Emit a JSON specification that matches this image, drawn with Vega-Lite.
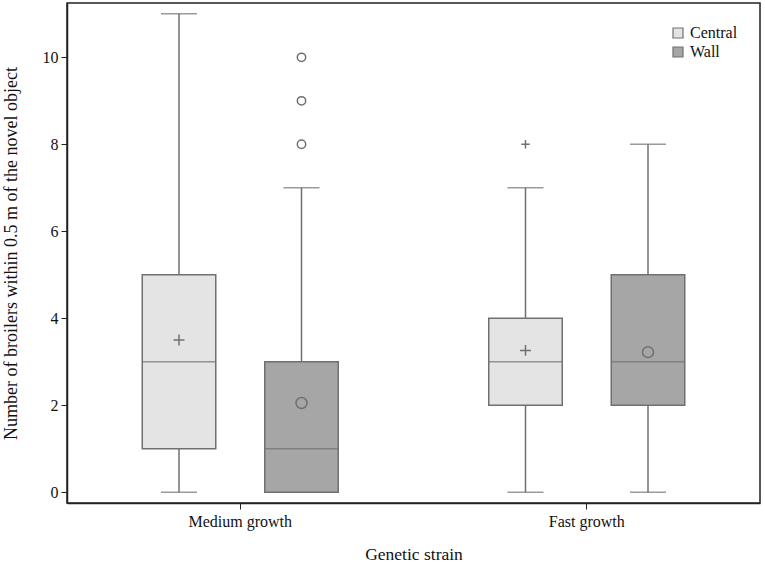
{
  "$schema": "https://vega.github.io/schema/vega-lite/v6.json",
  "width": 693,
  "height": 500,
  "autosize": "none",
  "padding": {"left": 67, "top": 3, "right": 5, "bottom": 65},
  "background": "white",
  "datasets": {
    "stats": [
      {"growth": "Medium growth", "strain": "Central", "lower": 0, "q1": 1, "median": 3, "q3": 5, "upper": 11, "mean": 3.5},
      {"growth": "Medium growth", "strain": "Wall", "lower": 0, "q1": 0, "median": 1, "q3": 3, "upper": 7, "mean": 2.05},
      {"growth": "Fast growth", "strain": "Central", "lower": 0, "q1": 2, "median": 3, "q3": 4, "upper": 7, "mean": 3.26},
      {"growth": "Fast growth", "strain": "Wall", "lower": 0, "q1": 2, "median": 3, "q3": 5, "upper": 8, "mean": 3.22}
    ],
    "outliers": [
      {"growth": "Medium growth", "strain": "Wall", "value": 8},
      {"growth": "Medium growth", "strain": "Wall", "value": 9},
      {"growth": "Medium growth", "strain": "Wall", "value": 10},
      {"growth": "Fast growth", "strain": "Central", "value": 8}
    ]
  },
  "data": {"name": "stats"},
  "config": {
    "font": "Liberation Serif",
    "view": {"stroke": "#222222", "strokeWidth": 1.5},
    "axis": {
      "labelFont": "Liberation Serif",
      "titleFont": "Liberation Serif",
      "labelColor": "#111111",
      "titleColor": "#111111",
      "titleFontWeight": "normal",
      "domainColor": "#222222",
      "tickColor": "#222222",
      "grid": false
    },
    "legend": {
      "labelFont": "Liberation Serif"
    }
  },
  "resolve": {"scale": {"shape": "independent"}, "legend": {"shape": "independent"}},
  "encoding": {
    "x": {
      "field": "growth",
      "type": "nominal",
      "sort": ["Medium growth", "Fast growth"],
      "scale": {"paddingInner": 0.3, "paddingOuter": 0.15},
      "axis": {
        "title": "Genetic strain",
        "labelAngle": 0,
        "labelFontSize": 16,
        "titleFontSize": 17.5,
        "tickSize": 6,
        "labelPadding": 4,
        "titlePadding": 16,
        "domainWidth": 1.5
      }
    },
    "xOffset": {
      "field": "strain",
      "type": "nominal",
      "sort": ["Central", "Wall"],
      "scale": {"paddingInner": 0.4, "paddingOuter": 0.19}
    }
  },
  "layer": [
    {
      "mark": {"type": "rule", "color": "#707070", "strokeWidth": 1.5},
      "encoding": {
        "y": {
          "field": "lower",
          "type": "quantitative",
          "scale": {"domain": [-0.25, 11.25], "nice": false, "zero": false},
          "axis": {
            "title": "Number of broilers within 0.5 m of the novel object",
            "values": [0, 2, 4, 6, 8, 10],
            "labelFontSize": 16,
            "titleFontSize": 18,
            "tickSize": 6,
            "labelPadding": 3,
            "titlePadding": 22,
            "domainWidth": 1.5
          }
        },
        "y2": {"field": "upper"}
      }
    },
    {
      "mark": {"type": "tick", "color": "#707070", "size": 36, "thickness": 1.5, "orient": "horizontal"},
      "encoding": {"y": {"field": "lower", "type": "quantitative"}}
    },
    {
      "mark": {"type": "tick", "color": "#707070", "size": 36, "thickness": 1.5, "orient": "horizontal"},
      "encoding": {"y": {"field": "upper", "type": "quantitative"}}
    },
    {
      "mark": {"type": "bar", "stroke": "#707070", "strokeWidth": 1.5},
      "encoding": {
        "y": {"field": "q1", "type": "quantitative"},
        "y2": {"field": "q3"},
        "color": {
          "field": "strain",
          "type": "nominal",
          "scale": {"domain": ["Central", "Wall"], "range": ["#e4e4e4", "#a6a6a6"]},
          "legend": {
            "title": null,
            "orient": "top-right",
            "offset": 22,
            "symbolType": "square",
            "symbolSize": 100,
            "symbolStrokeColor": "#707070",
            "symbolStrokeWidth": 1.2,
            "labelFontSize": 16,
            "labelColor": "#111111",
            "rowPadding": 3
          }
        }
      }
    },
    {
      "mark": {"type": "tick", "color": "#707070", "size": 73, "thickness": 1.5, "orient": "horizontal"},
      "encoding": {"y": {"field": "median", "type": "quantitative"}}
    },
    {
      "mark": {"type": "point", "filled": false, "stroke": "#707070", "strokeWidth": 1.5, "size": 120, "opacity": 1},
      "encoding": {
        "y": {"field": "mean", "type": "quantitative"},
        "shape": {
          "field": "strain",
          "type": "nominal",
          "scale": {"domain": ["Central", "Wall"], "range": ["M-1,0H1M0,-1V1", "circle"]},
          "legend": null
        }
      }
    },
    {
      "data": {"name": "outliers"},
      "mark": {"type": "point", "filled": false, "stroke": "#707070", "strokeWidth": 1.5, "size": 70, "opacity": 1},
      "encoding": {
        "y": {"field": "value", "type": "quantitative"},
        "shape": {
          "field": "strain",
          "type": "nominal",
          "scale": {"domain": ["Central", "Wall"], "range": ["M-1,0H1M0,-1V1", "circle"]},
          "legend": null
        }
      }
    }
  ]
}
